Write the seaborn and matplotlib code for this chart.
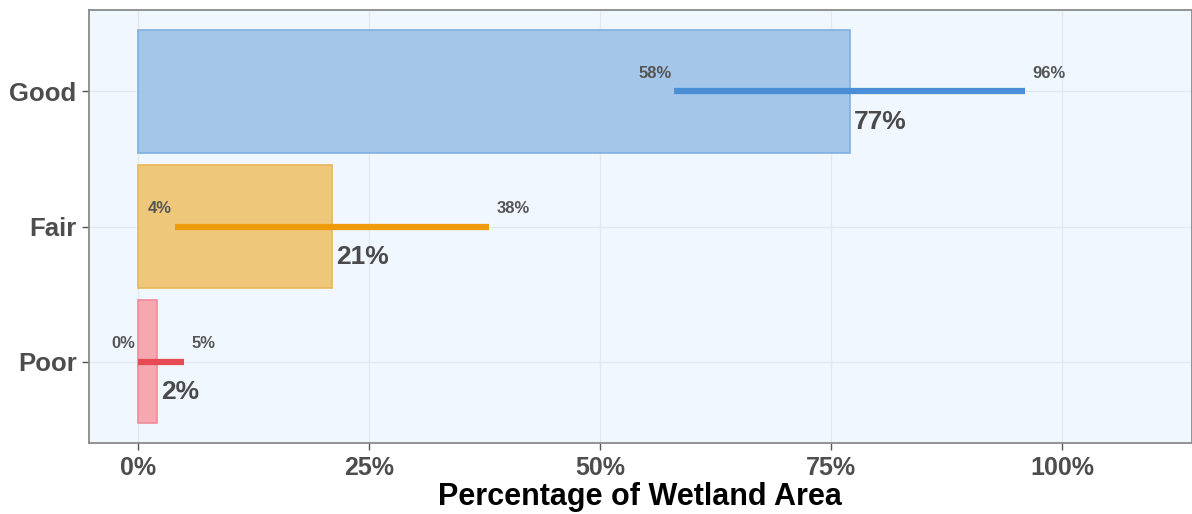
import matplotlib
matplotlib.use("Agg")
import matplotlib.pyplot as plt
import seaborn as sns
import pandas as pd
from matplotlib.ticker import FixedLocator

categories = ["Good", "Fair", "Poor"]
estimate = [77, 21, 2]
lower = [58, 4, 0]
upper = [96, 38, 5]
bar_colors = ["#a3c6e9", "#efc77b", "#f5a8b0"]
edge_colors = ["#80b0e0", "#e9b65c", "#ef8c97"]
line_colors = ["#4a8fd6", "#ee9c0c", "#e84a55"]
xticks = [0, 25, 50, 75, 100]
xticklabels = ["0%", "25%", "50%", "75%", "100%"]

df = pd.DataFrame({"cond": categories, "est": estimate, "lo": lower, "hi": upper})

sns.set_style("white")
plt.rcParams["font.family"] = ["Liberation Sans", "DejaVu Sans"]

fig = plt.figure(figsize=(11.92, 5.14), dpi=100)
ax = fig.add_axes([0.0747, 0.138, 0.925, 0.8425])
ax.set_facecolor("#f0f7fe")

sns.barplot(data=df, y="cond", x="est", hue="cond", palette=bar_colors,
            order=categories, hue_order=categories, orient="h", width=0.91,
            saturation=1, legend=False, ax=ax, zorder=2)
for patch, ec in zip(ax.patches, edge_colors):
    patch.set_edgecolor(ec)
    patch.set_linewidth(1.2)

ax.set_xlim(-5.3, 114)
ax.set_ylim(2.6, -0.6)

for i, row in df.iterrows():
    ax.hlines(i, row["lo"], row["hi"], color=line_colors[i], lw=4.5, zorder=3)
    ax.annotate(f"{row['lo']}%", (row["lo"], i), xytext=(-2, 13), textcoords="offset points",
                ha="right", va="center", fontsize=12, fontweight="bold", color="#555555", zorder=4)
    ax.annotate(f"{row['hi']}%", (row["hi"], i), xytext=(5, 13), textcoords="offset points",
                ha="left", va="center", fontsize=12, fontweight="bold", color="#555555", zorder=4)
    ax.annotate(f"{row['est']}%", (row["est"], i), xytext=(3, -22), textcoords="offset points",
                ha="left", va="center", fontsize=19, fontweight="bold", color="#4a4a4a", zorder=4)

ax.xaxis.set_major_locator(FixedLocator(xticks))
ax.set_xticklabels(xticklabels)
ax.grid(True, which="major", color="#e2e8ee", lw=1.0, zorder=0)
ax.set_axisbelow(True)

ax.tick_params(axis="both", which="major", length=5, width=1, color="#555555",
               labelcolor="#4d4d4d", pad=4, bottom=True, left=True)
ax.tick_params(axis="x", labelsize=18)
ax.tick_params(axis="y", labelsize=18.5)
for lab in ax.get_xticklabels() + ax.get_yticklabels():
    lab.set_fontweight("bold")

ax.set_xlabel("Percentage of Wetland Area", fontsize=22, fontweight="bold", color="black", labelpad=2)
ax.set_ylabel("")

for sp in ax.spines.values():
    sp.set_color("#8a8a8a")
    sp.set_linewidth(1.3)

fig.savefig("out.png", dpi=100)
